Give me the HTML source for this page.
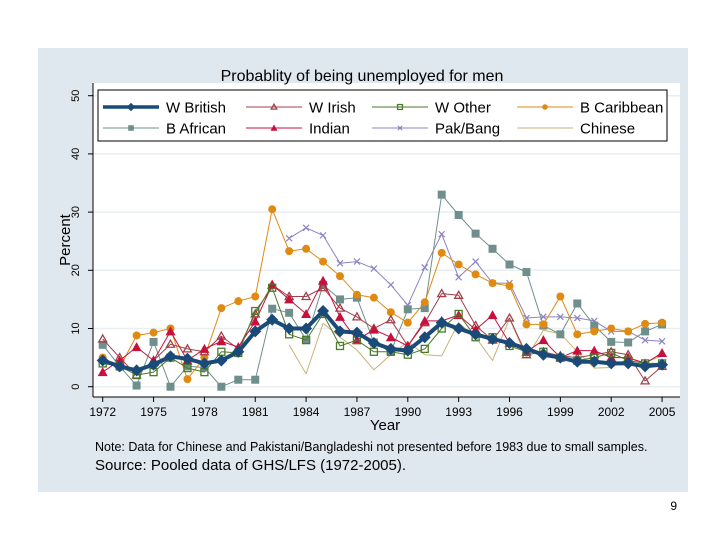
<!DOCTYPE html>
<html><head><meta charset="utf-8"><style>
body{margin:0;width:720px;height:540px;background:#fff;font-family:"Liberation Sans",sans-serif;overflow:hidden}
</style></head><body>
<svg width="720" height="540" font-family="Liberation Sans, sans-serif">
<rect x="38" y="48" width="650" height="444" fill="#dfe8ee"/>
<rect x="93" y="83" width="587" height="314" fill="#fff"/>
<text x="362" y="81" font-size="16" text-anchor="middle">Probablity of being unemployed for men</text>
<text transform="translate(70,240) rotate(-90)" font-size="15" text-anchor="middle">Percent</text>
<text x="385" y="430" font-size="15" text-anchor="middle">Year</text>
<text x="95" y="451" font-size="12.5">Note: Data for Chinese and Pakistani/Bangladeshi not presented before 1983 due to small samples.</text>
<text x="95" y="470" font-size="15">Source: Pooled data of GHS/LFS (1972-2005).</text>
<text x="677" y="510" font-size="12" text-anchor="end">9</text>
<g id="grid"></g><g id="axes"></g><g id="series"></g><g id="legend"></g>
</svg>
<script>
const years=[];for(let y=1972;y<=2005;y++)years.push(y);
const yTicks=[0,10,20,30,40,50];
const xTicks=[1972,1975,1978,1981,1984,1987,1990,1993,1996,1999,2002,2005];
const wBritish=[4.5,3.5,2.8,3.8,5.2,4.8,4.0,4.5,6.0,9.5,11.5,10,10,13,9.5,9.3,7.5,6.5,6.2,8.5,11,10,9,8.2,7.5,6.5,5.5,5,4.3,4.3,4,4,3.5,3.8];
const wIrish=[8.2,5,2,4.5,7.3,6.5,6,8.7,6.5,12.5,17.5,15.5,15.5,17,13.5,12,10,11.5,7,11,16,15.7,10.5,8,11.8,5.5,6,5.3,5,5.5,6,5.5,1,3.5];
const wOther=[4,3.5,2,2.5,5,3.2,2.5,6,5.8,13,17,9,8,12.5,7,8,6,6,5.5,6.5,10,12.5,8.5,8.5,7,6,6,5,4.5,5,5.8,4.5,4,4];
const bCaribbean=[5,3.3,8.8,9.3,10,1.3,5,13.5,14.7,15.5,30.5,23.3,23.7,21.5,19,15.8,15.3,12.8,11,14.5,23,21,19.3,17.8,17.3,10.7,10.7,15.5,9,9.5,10,9.5,10.8,11];
const bAfrican=[7.2,3.5,0.2,7.7,0,3.5,3.3,0,1.2,1.2,13.4,12.7,8.1,17.5,15,15.3,7.6,6,13.3,13.5,33,29.5,26.3,23.7,21,19.7,10.5,9,14.3,10.5,7.7,7.6,9.5,10.7];
const indian=[2.5,4.5,6.8,4.5,9.5,4.5,6.5,7.8,6.8,11.2,17.5,15,12.5,18.2,12,8,9.8,8.5,7,11.3,11.3,12.3,9.8,12.3,7.5,6,8,5,6.2,6.2,5,5,4,5.8];
const pakBang=[null,null,null,null,null,null,null,null,null,null,null,25.5,27.3,26,21.2,21.5,20.3,17.5,14,20.5,26.2,18.8,21.5,17.8,17.8,11.8,12,12,11.8,11.3,9.5,9.5,8,7.8];
const chinese=[null,null,null,null,null,null,null,null,null,null,null,7.2,2.2,10.9,8.5,6.3,2.9,5.5,7.7,5.5,5.3,11,8.5,4.5,11.7,5,9.7,9.1,6,3.2,3.3,4.8,4.2,5.3];
const NS='http://www.w3.org/2000/svg';
const xS=y=>102.7+(y-1972)*16.95;
const yS=v=>386.7-v*5.82;
function mk(tag,at,parent){const e=document.createElementNS(NS,tag);for(const k in at)e.setAttribute(k,at[k]);parent.appendChild(e);return e;}
const grid=document.getElementById('grid'),axes=document.getElementById('axes'),ser=document.getElementById('series'),leg=document.getElementById('legend');
yTicks.forEach(t=>{
 const g=mk('line',{x1:93,x2:680,y1:yS(t),y2:yS(t),stroke:'#e8eef2','stroke-width':1.5},grid);
 
 
 const tk=mk('line',{x1:88,x2:93,y1:yS(t),y2:yS(t),stroke:'#000'},axes);
 
 
 const tx=mk('text',{transform:`translate(79,${yS(t)}) rotate(-90)`,'font-size':11,'text-anchor':'middle'},axes);
 tx.textContent=t;
 
 
});
xTicks.forEach(t=>{
 const tk=mk('line',{x1:xS(t),x2:xS(t),y1:397,y2:402,stroke:'#000'},axes);
 
 
 const tx=mk('text',{x:xS(t),y:416,'font-size':12,'text-anchor':'middle'},axes);
 tx.textContent=t;
 
 
});
const ya=mk('line',{x1:93,x2:93,y1:83,y2:397,stroke:'#000'},axes);


const xa=mk('line',{x1:93,x2:680,y1:397,y2:397,stroke:'#000'},axes);


function marker(type,x,y,c,parent,s){
 s=s||1;
 if(type==='diamond')return mk('path',{d:`M${x} ${y-6*s}L${x+6*s} ${y}L${x} ${y+6*s}L${x-6*s} ${y}Z`,fill:c},parent);
 if(type==='tri-o')return mk('path',{d:`M${x} ${y-4*s}L${x+4*s} ${y+3*s}L${x-4*s} ${y+3*s}Z`,fill:'none',stroke:c,'stroke-width':1.3},parent);
 if(type==='tri')return mk('path',{d:`M${x} ${y-5*s}L${x+5*s} ${y+4*s}L${x-5*s} ${y+4*s}Z`,fill:c},parent);
 if(type==='sq-o')return mk('rect',{x:x-3.5*s,y:y-3.5*s,width:7*s,height:7*s,fill:'none',stroke:c,'stroke-width':1.3},parent);
 if(type==='sq')return mk('rect',{x:x-4*s,y:y-4*s,width:8*s,height:8*s,fill:c},parent);
 if(type==='circ')return mk('circle',{cx:x,cy:y,r:4*s,fill:c},parent);
 if(type==='x')return mk('path',{d:`M${x-3*s} ${y-3*s}L${x+3*s} ${y+3*s}M${x-3*s} ${y+3*s}L${x+3*s} ${y-3*s}`,stroke:c,'stroke-width':1.2},parent);
 return null;
}
const defs=[
 {name:'chinese',label:'Chinese',data:chinese,c:'#c9b27a',w:1,m:null},
 {name:'pak-bang',label:'Pak/Bang',data:pakBang,c:'#8b84c4',w:1,m:'x'},
 {name:'b-african',label:'B African',data:bAfrican,c:'#6f8f8c',w:1,m:'sq'},
 {name:'b-caribbean',label:'B Caribbean',data:bCaribbean,c:'#e08a12',w:1,m:'circ'},
 {name:'w-irish',label:'W Irish',data:wIrish,c:'#a0404a',w:1,m:'tri-o'},
 {name:'indian',label:'Indian',data:indian,c:'#c8103c',w:1,m:'tri'},
 {name:'w-other',label:'W Other',data:wOther,c:'#4a7a2a',w:1,m:'sq-o'},
 {name:'w-british',label:'W British',data:wBritish,c:'#1a4a78',w:4,m:'diamond'}
];
defs.forEach(s=>{
 const g=mk('g',{},ser);
 
 
 let d='';let pen=false;
 s.data.forEach((v,i)=>{if(v===null){pen=false;return;}d+=(pen?'L':'M')+xS(years[i]).toFixed(1)+' '+yS(v).toFixed(1);pen=true;});
 const p=mk('path',{d:d,fill:'none',stroke:s.c,'stroke-width':s.w,'stroke-linejoin':'round'},g);
 
 
 if(s.m)s.data.forEach((v,i)=>{if(v===null)return;const e=marker(s.m,xS(years[i]),yS(v),s.c,g);
  
  });
});
const lb=mk('rect',{x:98,y:90,width:569,height:51,fill:'#fff',stroke:'#000','stroke-width':1},leg);


const order=['w-british','w-irish','w-other','b-caribbean','b-african','indian','pak-bang','chinese'];
const colX=[103,246,372,517];
order.forEach((n,k)=>{
 const s=defs.find(d=>d.name===n);const x=colX[k%4],y=k<4?107:128;
 const g=mk('g',{},leg);
 
 
 mk('line',{x1:x,x2:x+56,y1:y,y2:y,stroke:s.c,'stroke-width':s.w===4?3.5:1},g);
 if(s.m)marker(s.m,x+28,y,s.c,g,0.7);
 const t=mk('text',{x:x+63,y:y+5.5,'font-size':15},g);t.textContent=s.label;
});
</script>
</body></html>
